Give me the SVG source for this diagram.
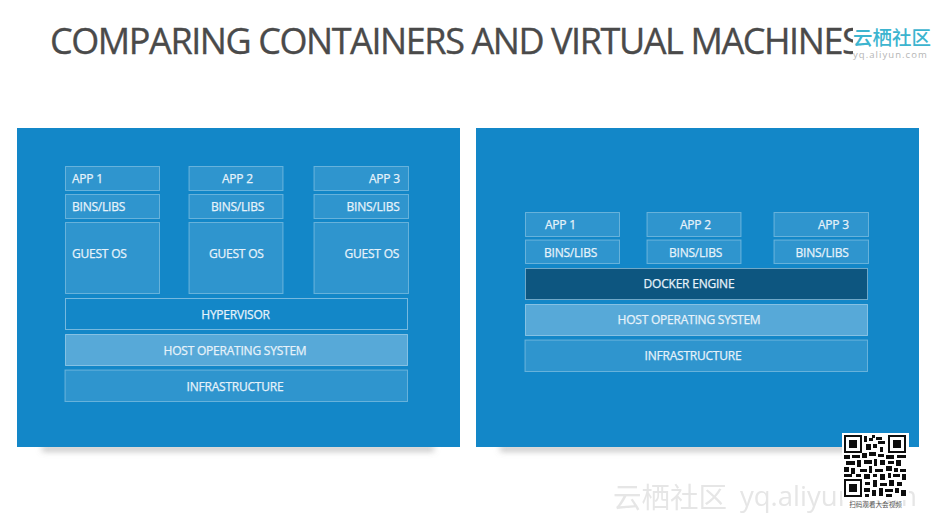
<svg xmlns="http://www.w3.org/2000/svg" width="931" height="522" viewBox="0 0 931 522">
<style>
text{font-family:"Open Sans","Noto Sans",sans-serif}
.l{fill:#e6f2fa;stroke:#e6f2fa;stroke-width:.25;font-size:12px;letter-spacing:-.22px}
.m{text-anchor:middle}
.b{fill:#ffffff;fill-opacity:.12;stroke:#ffffff;stroke-opacity:.32;stroke-width:1}
.h{fill:#ffffff;fill-opacity:.29;stroke:#ffffff;stroke-opacity:.4;stroke-width:1}
.n{fill:none;stroke:#ffffff;stroke-opacity:.42;stroke-width:1}
.d{fill:#0d5680;stroke:#ffffff;stroke-opacity:.4;stroke-width:1}
.p{fill:#1387c8}
</style>
<defs>
<filter id="blur" x="-10%" y="-200%" width="120%" height="500%"><feGaussianBlur stdDeviation="3"/></filter>
<filter id="soft" x="-5%" y="-20%" width="110%" height="140%"><feGaussianBlur stdDeviation=".45"/></filter>
</defs>
<rect width="931" height="522" fill="#ffffff"/>
<text id="title" x="50" y="54" font-size="36" letter-spacing="-1.42" fill="#4a4a4a" stroke="#4a4a4a" stroke-width=".35">COMPARING CONTAINERS AND VIRTUAL MACHINES</text>
<g id="logo">
<rect x="853" y="20" width="78" height="44" fill="#ffffff"/>
<text x="853" y="45" font-size="19.500" font-weight="500" fill="#3cb4cf" style='font-family:"Noto Sans CJK SC",sans-serif'>云栖社区</text>
<text x="853" y="58" font-size="9.500" letter-spacing="1.05" fill="#b5b5b5">yq.aliyun.com</text>
</g>
<g id="shadows">
<rect x="42" y="446" width="392" height="5" fill="#8a8a8a" fill-opacity=".6" filter="url(#blur)"/>
<rect x="500" y="446" width="394" height="5" fill="#8a8a8a" fill-opacity=".6" filter="url(#blur)"/>
</g>
<g id="panel-left">
<rect class="p" x="17" y="128" width="443" height="319"/>
<g id="l-app1"><rect class="b" x="65.500" y="166.500" width="94" height="24"/><text class="l" x="72" y="183">APP 1</text></g>
<g id="l-app2"><rect class="b" x="189" y="166.500" width="94" height="24"/><text class="l" x="222" y="183">APP 2</text></g>
<g id="l-app3"><rect class="b" x="314" y="166.500" width="94.500" height="24"/><text class="l" x="369" y="183">APP 3</text></g>
<g id="l-bins1"><rect class="b" x="65.500" y="194.500" width="94" height="24"/><text class="l" x="72" y="210.500">BINS/LIBS</text></g>
<g id="l-bins2"><rect class="b" x="189" y="194.500" width="94" height="24"/><text class="l" x="211" y="210.500">BINS/LIBS</text></g>
<g id="l-bins3"><rect class="b" x="314" y="194.500" width="94.500" height="24"/><text class="l" x="346.500" y="210.500">BINS/LIBS</text></g>
<g id="l-os1"><rect class="b" x="65.500" y="222.500" width="94" height="71"/><text class="l" x="72" y="258">GUEST OS</text></g>
<g id="l-os2"><rect class="b" x="189" y="222.500" width="94" height="71"/><text class="l" x="209" y="258">GUEST OS</text></g>
<g id="l-os3"><rect class="b" x="314" y="222.500" width="94.500" height="71"/><text class="l" x="344.500" y="258">GUEST OS</text></g>
<g id="l-hyp"><rect class="n" x="65.500" y="298.500" width="342" height="31"/><text class="l m" x="235.500" y="318.500">HYPERVISOR</text></g>
<g id="l-host"><rect class="h" x="65.500" y="334.500" width="342" height="31"/><text class="l m" x="235" y="354.500">HOST OPERATING SYSTEM</text></g>
<g id="l-infra"><rect class="b" x="65" y="370" width="342.500" height="31.500"/><text class="l m" x="235" y="390.500">INFRASTRUCTURE</text></g>
</g>
<g id="panel-right">
<rect class="p" x="476" y="128" width="443" height="319"/>
<g id="r-app1"><rect class="b" x="525.500" y="212.500" width="94" height="24"/><text class="l" x="545" y="229">APP 1</text></g>
<g id="r-app2"><rect class="b" x="647" y="212.500" width="94" height="24"/><text class="l" x="680" y="229">APP 2</text></g>
<g id="r-app3"><rect class="b" x="774" y="212.500" width="94.500" height="24"/><text class="l" x="818" y="229">APP 3</text></g>
<g id="r-bins1"><rect class="b" x="525.500" y="240" width="94" height="23.500"/><text class="l" x="544" y="256.500">BINS/LIBS</text></g>
<g id="r-bins2"><rect class="b" x="647" y="240" width="94" height="23.500"/><text class="l" x="669" y="256.500">BINS/LIBS</text></g>
<g id="r-bins3"><rect class="b" x="774" y="240" width="94.500" height="23.500"/><text class="l" x="795.500" y="256.500">BINS/LIBS</text></g>
<g id="r-docker"><rect class="d" x="525.500" y="268.500" width="342" height="31"/><text class="l m" x="689" y="287.500">DOCKER ENGINE</text></g>
<g id="r-host"><rect class="h" x="525.500" y="304.500" width="342" height="31"/><text class="l m" x="689" y="323.500">HOST OPERATING SYSTEM</text></g>
<g id="r-infra"><rect class="b" x="525" y="340" width="342.500" height="31.500"/><text class="l m" x="693" y="359.500">INFRASTRUCTURE</text></g>
</g>
<g id="watermark" fill="#e6e6e6" filter="url(#soft)">
<text x="613" y="508" font-size="28.500" style='font-family:"Noto Sans CJK SC",sans-serif'>云栖社区</text>
<text x="740" y="506" font-size="27.500">yq.aliyun.com</text>
</g>
<g id="qr">
<rect x="842" y="433" width="67" height="67" fill="#ffffff"/>
<g filter="url(#soft)">
<path fill="#111" d="M844 435h18v18h-18zM888 435h18v18h-18zM844 479h18v18h-18z"/>
<path fill="#fff" d="M846 437h14v14h-14zM890 437h14v14h-14zM846 481h14v14h-14z"/>
<path fill="#111" d="M849 440h8v8h-8zM893 440h8v8h-8zM849 484h8v8h-8z"/>
<path fill="#111" d="M864 436h3v6h-3zM869 438h4v3h-4zM872 435h3v3h-3zM876 437h6v3h-6zM878 441h7v3h-7zM866 444h5v6h-5zM873 444h4v4h-4zM880 447h3v5h-3zM844 455h6v4h-6zM852 455h8v3h-8zM862 453h5v5h-5zM869 452h7v4h-7zM878 454h6v3h-6zM886 455h8v4h-8zM897 455h9v3h-9zM846 461h9v4h-9zM857 460h4v7h-4zM864 460h8v4h-8zM874 459h3v7h-3zM880 460h5v5h-5zM888 461h6v3h-6zM896 460h5v6h-5zM844 467h5v5h-5zM851 468h4v6h-4zM860 469h7v3h-7zM869 466h3v7h-3zM875 469h8v3h-8zM886 466h6v5h-6zM894 468h4v4h-4zM900 469h6v3h-6zM844 474h8v3h-8zM856 474h5v3h-5zM864 474h6v5h-6zM873 474h4v3h-4zM880 474h5v6h-5zM888 473h3v5h-3zM893 474h7v3h-7zM902 474h4v6h-4zM865 482h5v3h-5zM873 480h4v7h-4zM880 483h7v3h-7zM889 480h5v6h-5zM897 482h5v4h-5zM864 488h6v4h-6zM872 490h4v6h-4zM879 488h4v8h-4zM885 489h8v3h-8zM895 488h4v5h-4zM901 490h5v6h-5zM865 494h4v3h-4zM886 494h6v3h-6z"/>
</g>
<text x="875.500" y="507" font-size="6.600" text-anchor="middle" fill="#555" style='font-family:"Noto Sans CJK SC",sans-serif'>扫码观看大会视频</text>
</g>
</svg>
